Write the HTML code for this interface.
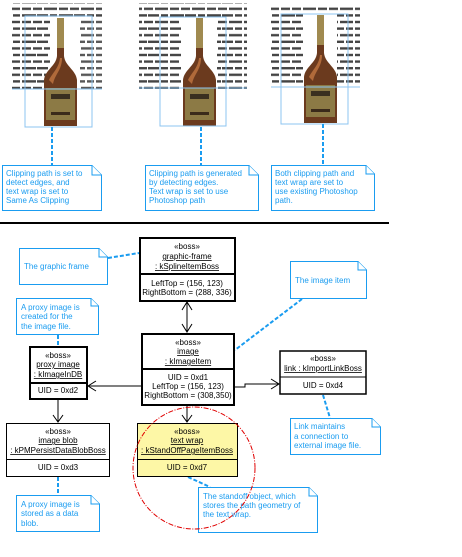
<!DOCTYPE html>
<html><head><meta charset="utf-8"><style>
html,body{margin:0;padding:0;background:#fff;}
svg{display:block;}
text{font-family:"Liberation Sans",sans-serif;}
.n{fill:#1a9cf0;font-size:8px;}
.b{font-size:8px;fill:#000;}
</style></head><body>
<svg width="462" height="557" viewBox="0 0 462 557" xmlns="http://www.w3.org/2000/svg">
<defs>
<pattern id="tx" width="37" height="13.2" patternUnits="userSpaceOnUse">
<rect x="0" y="1" width="11" height="2.4" fill="#444"/>
<rect x="13" y="1" width="7" height="2.4" fill="#444"/>
<rect x="22" y="1" width="14" height="2.4" fill="#444"/>
<rect x="0" y="7.6" width="5" height="2.4" fill="#444"/>
<rect x="7" y="7.6" width="13" height="2.4" fill="#444"/>
<rect x="22" y="7.6" width="9" height="2.4" fill="#444"/>
<rect x="33" y="7.6" width="4" height="2.4" fill="#444"/>
</pattern>
<g id="bottle">
<path d="M14 0 L21 0 L21 38 C22 48 33 52 34 62 L34 108 L1 108 L1 62 C2 52 13 48 14 38 Z" fill="#6b3a1e"/>
<path d="M14 0 L21 0 L21 30 L14 30 Z" fill="#a08a50"/>
<path d="M6 62 C10 54 16 50 17 40 L19 40 C19 52 12 56 10 66 Z" fill="#b06a3a"/>
<rect x="3" y="70" width="29" height="32" fill="#8c7a45"/>
<rect x="8" y="76" width="19" height="5" fill="#3a3020"/>
<rect x="8" y="94" width="19" height="3" fill="#3a2a1a"/>
</g>
</defs>
<rect x="12" y="3" width="90" height="14" fill="url(#tx)"/>
<rect x="12" y="17" width="38" height="72" fill="url(#tx)"/>
<rect x="80" y="17" width="22" height="72" fill="url(#tx)" opacity="0.9"/>
<use href="#bottle" x="43" y="18"/>
<rect x="25" y="16" width="67" height="111" fill="none" stroke="#8cc4f0" stroke-width="1"/>
<line x1="12" y1="89" x2="102" y2="89" stroke="#8cc4f0"/>
<rect x="139" y="3" width="108" height="14" fill="url(#tx)"/>
<rect x="139" y="17" width="42" height="72" fill="url(#tx)"/>
<rect x="217" y="17" width="30" height="72" fill="url(#tx)"/>
<use href="#bottle" x="182" y="18"/>
<rect x="160" y="17" width="66" height="109" fill="none" stroke="#8cc4f0"/>
<line x1="139" y1="88" x2="247" y2="88" stroke="#8cc4f0"/>
<rect x="271" y="5" width="89" height="9" fill="url(#tx)"/>
<rect x="271" y="14" width="32" height="72" fill="url(#tx)"/>
<rect x="337" y="14" width="23" height="72" fill="url(#tx)"/>
<use href="#bottle" x="303" y="15"/>
<rect x="281" y="14" width="67" height="110" fill="none" stroke="#8cc4f0"/>
<line x1="271" y1="87" x2="360" y2="87" stroke="#8cc4f0"/>

<g stroke="#1a9cf0" stroke-width="2" stroke-dasharray="4,2" fill="none">
<line x1="52" y1="127" x2="52" y2="165"/>
<line x1="201" y1="127" x2="201" y2="165"/>
<line x1="323" y1="124" x2="323" y2="165"/>
</g>
<g fill="#fff" stroke="#1a9cf0" stroke-width="1">
<path d="M2.5 165.5 H92 L101.5 175 V210.5 H2.5 Z"/>
<path d="M92 165.5 V175 H101.5"/>
<path d="M145.5 165.5 H249 L258.5 175 V210.5 H145.5 Z"/>
<path d="M249 165.5 V175 H258.5"/>
<path d="M271.5 165.5 H366 L374.5 174 V210.5 H271.5 Z"/>
<path d="M366 165.5 V174 H374.5"/>
</g>
<text class="n" x="6" y="176">Clipping path is set to</text>
<text class="n" x="6" y="185">detect edges, and</text>
<text class="n" x="6" y="194">text wrap is set to</text>
<text class="n" x="6" y="203">Same As Clipping</text>
<text class="n" x="149" y="176">Clipping path is generated</text>
<text class="n" x="149" y="185">by detecting edges.</text>
<text class="n" x="149" y="194">Text wrap is set to use</text>
<text class="n" x="149" y="203">Photoshop path</text>
<text class="n" x="275" y="176">Both clipping path and</text>
<text class="n" x="275" y="185">text wrap are set to</text>
<text class="n" x="275" y="194">use existing Photoshop</text>
<text class="n" x="275" y="203">path.</text>

<line x1="0" y1="223" x2="389" y2="223" stroke="#000" stroke-width="2"/>

<g stroke="#1a9cf0" stroke-width="2" stroke-dasharray="4,2" fill="none">
<line x1="108" y1="258" x2="139" y2="253"/>
<line x1="302" y1="299" x2="235" y2="350"/>
<line x1="58" y1="335" x2="58" y2="346"/>
<line x1="58" y1="477" x2="58" y2="495"/>
<line x1="323" y1="395" x2="330" y2="418"/>
<line x1="188" y1="477" x2="210" y2="487"/>
</g>
<g fill="#fff" stroke="#1a9cf0" stroke-width="1">
<path d="M19.5 248.5 H99 L107.5 257 V284.5 H19.5 Z"/><path d="M99 248.5 V257 H107.5"/>
<path d="M16.5 298.5 H91 L98.5 306 V334.5 H16.5 Z"/><path d="M91 298.5 V306 H98.5"/>
<path d="M290.5 261.5 H358 L366.5 270 V298.5 H290.5 Z"/><path d="M358 261.5 V270 H366.5"/>
<path d="M290.5 418.5 H372 L380.5 427 V454.5 H290.5 Z"/><path d="M372 418.5 V427 H380.5"/>
<path d="M16.5 495.5 H91 L99.5 504 V531.5 H16.5 Z"/><path d="M91 495.5 V504 H99.5"/>
<path d="M198.5 487.5 H309 L317.5 496 V532.5 H198.5 Z"/><path d="M309 487.5 V496 H317.5"/>
</g>
<text class="n" x="24" y="269">The  graphic frame</text>
<text class="n" x="21" y="310">A proxy image is</text>
<text class="n" x="21" y="319">created for the</text>
<text class="n" x="21" y="329">the image file.</text>
<text class="n" x="295" y="283">The image item</text>
<text class="n" x="294" y="429">Link maintains</text>
<text class="n" x="294" y="439">a connection to</text>
<text class="n" x="294" y="448">external image file.</text>
<text class="n" x="21" y="507">A proxy image is</text>
<text class="n" x="21" y="516">stored as a data</text>
<text class="n" x="21" y="526">blob.</text>
<text class="n" x="203" y="499">The standoff object, which</text>
<text class="n" x="203" y="508">stores the path geometry of</text>
<text class="n" x="203" y="517">the text wrap.</text>

<g stroke="#000" stroke-width="1" fill="none">
<line x1="187" y1="302" x2="187" y2="332"/>
<path d="M182 310 L187 302 L192 310"/>
<path d="M182 324 L187 332 L192 324"/>
<line x1="141" y1="386" x2="88" y2="386"/>
<path d="M96 381 L88 386 L96 391"/>
<path d="M234 387 H245 V384 H278"/>
<path d="M271 379 L279 384 L271 389"/>
<line x1="187" y1="405" x2="187" y2="422"/>
<path d="M182 415 L187 422 L192 415"/>
<line x1="58" y1="399" x2="58" y2="422"/>
<path d="M53 415 L58 422 L63 415"/>
</g>

<g stroke="#000" stroke-width="2" fill="#fff">
<rect x="140" y="238" width="95" height="63"/>
<line x1="140" y1="274" x2="235" y2="274"/>
<rect x="142" y="334" width="92" height="71"/>
<line x1="142" y1="369" x2="234" y2="369"/>
<rect x="30" y="347" width="57" height="52"/>
<line x1="30" y1="383" x2="87" y2="383"/>
<rect x="280" y="351" width="86" height="43" stroke-width="1.5"/>
<line x1="280" y1="377" x2="366" y2="377" stroke-width="1"/>
<rect x="6.5" y="423.5" width="103" height="53" stroke-width="1"/>
<line x1="6" y1="459.5" x2="110" y2="459.5" stroke-width="1"/>
<rect x="137.5" y="423.5" width="100" height="53" fill="#fdf7a6" stroke-width="1"/>
<line x1="137" y1="459.5" x2="238" y2="459.5" stroke-width="1"/>
</g>
<g class="b" text-anchor="middle" font-size="8">
<text class="b" x="187" y="249" font-size="7">«boss»</text>
<text class="b" x="187" y="259" text-decoration="underline">graphic-frame</text>
<text class="b" x="187" y="269" text-decoration="underline">: kSplineItemBoss</text>
<text class="b" x="187" y="286">LeftTop = (156, 123)</text>
<text class="b" x="187" y="295">RightBottom = (288, 336)</text>
<text class="b" x="188" y="345" font-size="7">«boss»</text>
<text class="b" x="188" y="354" text-decoration="underline">image</text>
<text class="b" x="188" y="364" text-decoration="underline">: kImageItem</text>
<text class="b" x="188" y="380">UID = 0xd1</text>
<text class="b" x="188" y="389">LeftTop = (156, 123)</text>
<text class="b" x="188" y="398">RightBottom = (308,350)</text>
<text class="b" x="58" y="358" font-size="7">«boss»</text>
<text class="b" x="58" y="367" text-decoration="underline">proxy image</text>
<text class="b" x="58" y="377" text-decoration="underline">: kImageInDB</text>
<text class="b" x="58" y="393">UID = 0xd2</text>
<text class="b" x="323" y="361" font-size="7">«boss»</text>
<text class="b" x="323" y="371" text-decoration="underline">link  : kImportLinkBoss</text>
<text class="b" x="323" y="388">UID = 0xd4</text>
<text class="b" x="58" y="434" font-size="7">«boss»</text>
<text class="b" x="58" y="443" text-decoration="underline">image blob</text>
<text class="b" x="58" y="453" text-decoration="underline">: kPMPersistDataBlobBoss</text>
<text class="b" x="58" y="470">UID = 0xd3</text>
<text class="b" x="187" y="434" font-size="7">«boss»</text>
<text class="b" x="187" y="443" text-decoration="underline">text wrap</text>
<text class="b" x="187" y="453" text-decoration="underline">: kStandOffPageItemBoss</text>
<text class="b" x="187" y="470">UID = 0xd7</text>
</g>
<circle cx="194" cy="468" r="61" fill="none" stroke="#e00000" stroke-width="1" stroke-dasharray="5,1.5,1,1.5"/>
</svg>
</body></html>
